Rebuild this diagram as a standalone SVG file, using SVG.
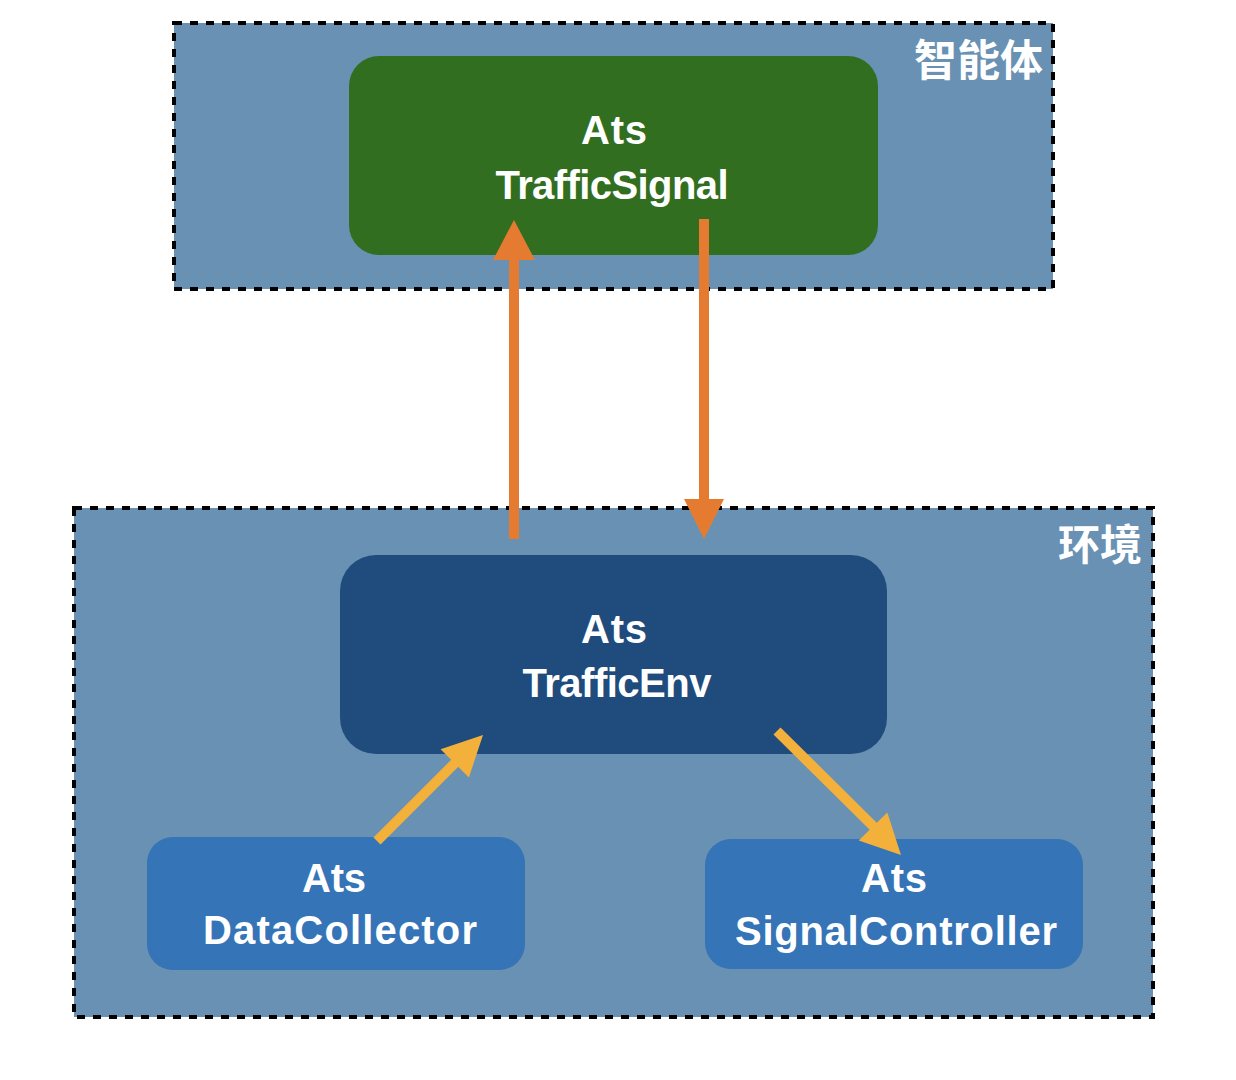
<svg xmlns="http://www.w3.org/2000/svg" width="1236" height="1080" viewBox="0 0 1236 1080">
  <style>
    .container { fill: #6991b3; stroke: #000; stroke-width: 4; stroke-dasharray: 8 8; }
    .label { font-family: "Liberation Sans", Arial, sans-serif; font-weight: bold; font-size: 40px; fill: #fff; text-anchor: middle; }
    .zone { font-family: "Noto Sans CJK SC", sans-serif; font-weight: bold; fill: #fff; text-anchor: end; }
    .orange { stroke: #e57b31; stroke-width: 10; fill: none; }
    .orangehead { fill: #e57b31; }
    .yellow { stroke: #f3b13b; stroke-width: 10; fill: none; }
    .yellowhead { fill: #f3b13b; }
  </style>
  <rect width="1236" height="1080" fill="#fff"/>
  <g id="zone-agent">
    <rect class="container" x="174" y="23" width="879" height="266"/>
    <text class="zone" x="1043" y="76" font-size="43">智能体</text>
  </g>
  <g id="zone-env">
    <rect class="container" x="74" y="508" width="1079" height="509"/>
    <text class="zone" x="1142" y="560" font-size="42">环境</text>
  </g>
  <g id="node-trafficsignal">
    <rect x="349" y="56" width="529" height="199" rx="30" fill="#326e1f"/>
    <text class="label" x="614" y="144" textLength="66">Ats</text>
    <text class="label" x="612" y="199" textLength="233" lengthAdjust="spacing">TrafficSignal</text>
  </g>
  <g id="node-trafficenv">
    <rect x="340" y="555" width="547" height="199" rx="36" fill="#1f4c7d"/>
    <text class="label" x="614" y="643" textLength="66">Ats</text>
    <text class="label" x="617" y="697" textLength="189" lengthAdjust="spacing">TrafficEnv</text>
  </g>
  <g id="node-datacollector">
    <rect x="147" y="837" width="378" height="133" rx="26" fill="#3474b7"/>
    <text class="label" x="334" y="892" textLength="64">Ats</text>
    <text class="label" x="340" y="944" textLength="274" lengthAdjust="spacing">DataCollector</text>
  </g>
  <g id="node-signalcontroller">
    <rect x="705" y="839" width="378" height="130" rx="26" fill="#3474b7"/>
    <text class="label" x="894" y="892" textLength="66">Ats</text>
    <text class="label" x="896" y="945" textLength="322" lengthAdjust="spacing">SignalController</text>
  </g>
  <g id="connectors">
    <line class="orange" x1="514" y1="539" x2="514" y2="256"/>
    <polygon class="orangehead" points="514,220 493,260 535,260"/>
    <line class="orange" x1="704" y1="219" x2="704" y2="503"/>
    <polygon class="orangehead" points="684,499 724,499 704,539"/>
    <line class="yellow" x1="377" y1="841" x2="457" y2="761"/>
    <polygon class="yellowhead" points="483,735 468.9,777.4 440.6,749.2"/>
    <line class="yellow" x1="777" y1="731" x2="876" y2="829"/>
    <polygon class="yellowhead" points="901,855 858.7,840.4 887.3,812.4"/>
  </g>
</svg>
